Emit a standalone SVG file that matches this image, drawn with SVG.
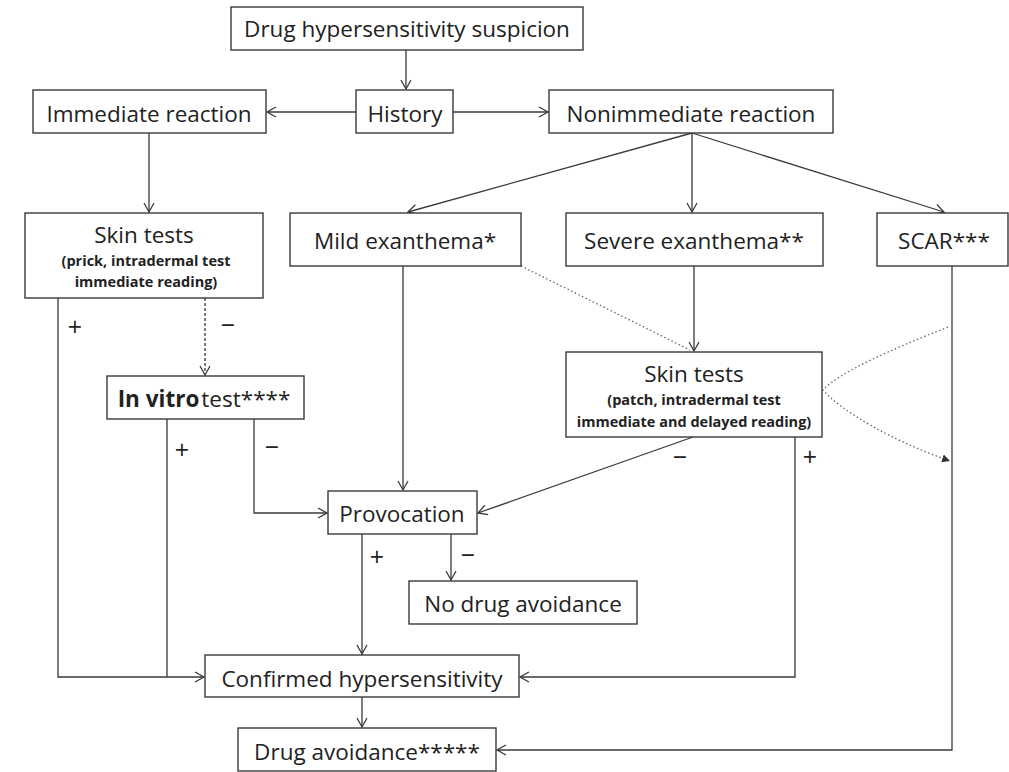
<svg xmlns="http://www.w3.org/2000/svg" width="1009" height="772" viewBox="0 0 1009 772">
<style>
.box{fill:#fff;stroke:#3a3a3a;stroke-width:1.4}
.t{font-family:"Open Sans","Noto Sans",sans-serif;font-size:22.5px;fill:#222;text-anchor:middle}
.s{font-family:"Open Sans","Noto Sans",sans-serif;font-size:14.5px;font-weight:bold;fill:#222;text-anchor:middle}
.l{font-family:"Open Sans","Noto Sans",sans-serif;font-size:25px;fill:#222;text-anchor:middle}
.c{fill:none;stroke:#3a3a3a;stroke-width:1.3}
.a{marker-end:url(#arr)}
.dash{stroke-dasharray:3,2}
.dot{fill:none;stroke:#666;stroke-width:1.3;stroke-dasharray:1.5,2.5}
</style>
<defs>
<marker id="arr" markerWidth="12" markerHeight="12" refX="10" refY="6" orient="auto" markerUnits="userSpaceOnUse">
<path d="M1,1 L10,6 L1,11" fill="none" stroke="#3a3a3a" stroke-width="1.3"/>
</marker>
<marker id="farr" markerWidth="10" markerHeight="10" refX="8" refY="5" orient="auto" markerUnits="userSpaceOnUse">
<path d="M0,1 L8,5 L0,9 Z" fill="#333"/>
</marker>
</defs>
<g id="connectors">
<path class="c a" d="M406,50 V89"/>
<path class="c a" d="M356,112 H267"/>
<path class="c a" d="M453,112 H548"/>
<path class="c a" d="M149,133 V212"/>
<path class="c a" d="M692,133 L408,212"/>
<path class="c a" d="M692,133 V212"/>
<path class="c a" d="M692,133 L944,212"/>
<path class="c a dash" d="M205,298 V375"/>
<path class="c a" d="M58,298 V677 H204"/>
<path class="c" d="M167,419 V677"/>
<path class="c a" d="M254,419 V513 H327"/>
<path class="c a" d="M403,266 V490"/>
<path class="dot" d="M521,266 L690,350"/>
<path class="c a" d="M694,266 V351"/>
<path class="c a" d="M693,437 L478,513"/>
<path class="c a" d="M795,437 V677 H520"/>
<path class="c a" d="M362,534 V654"/>
<path class="c a" d="M451,534 V580"/>
<path class="c a" d="M362,697 V727"/>
<path class="c a" d="M952,266 V750 H497"/>
<path class="dot" d="M948,327 C890,350 840,372 823,390 C840,410 890,440 950,461" marker-end="url(#farr)"/>
<text class="l" x="75" y="336">+</text>
<text class="l" x="228" y="334">−</text>
<text class="l" x="182" y="459">+</text>
<text class="l" x="272" y="456">−</text>
<text class="l" x="680" y="466">−</text>
<text class="l" x="810" y="466">+</text>
<text class="l" x="377" y="566">+</text>
<text class="l" x="468" y="564">−</text>
</g>
<g id="n-suspicion"><rect class="box" x="231" y="7" width="352" height="43"/><text class="t" x="407" y="37">Drug hypersensitivity suspicion</text></g>
<g id="n-history"><rect class="box" x="356" y="90" width="97" height="43"/><text class="t" x="405" y="122">History</text></g>
<g id="n-immediate"><rect class="box" x="33" y="90" width="233" height="43"/><text class="t" x="149" y="122">Immediate reaction</text></g>
<g id="n-nonimmediate"><rect class="box" x="549" y="90" width="284" height="43"/><text class="t" x="691" y="122">Nonimmediate reaction</text></g>
<g id="n-skin-left"><rect class="box" x="25" y="213" width="238" height="85"/><text class="t" x="144" y="243">Skin tests</text><text class="s" x="146" y="266">(prick, intradermal test</text><text class="s" x="146" y="287">immediate reading)</text></g>
<g id="n-mild"><rect class="box" x="290" y="213" width="231" height="53"/><text class="t" x="405" y="249">Mild exanthema*</text></g>
<g id="n-severe"><rect class="box" x="566" y="213" width="257" height="53"/><text class="t" x="694" y="249">Severe exanthema**</text></g>
<g id="n-scar"><rect class="box" x="877" y="213" width="131" height="53"/><text class="t" x="944" y="249">SCAR***</text></g>
<g id="n-invitro"><rect class="box" x="107" y="376" width="197" height="43"/><text class="t" x="204" y="407"><tspan font-weight="bold">In vitro</tspan><tspan dx="2">test****</tspan></text></g>
<g id="n-skin-right"><rect class="box" x="566" y="352" width="256" height="85"/><text class="t" x="694" y="382">Skin tests</text><text class="s" x="694" y="405">(patch, intradermal test</text><text class="s" x="694" y="427">immediate and delayed reading)</text></g>
<g id="n-provocation"><rect class="box" x="328" y="491" width="149" height="43"/><text class="t" x="402" y="522">Provocation</text></g>
<g id="n-nodrug"><rect class="box" x="409" y="581" width="228" height="43"/><text class="t" x="523" y="612">No drug avoidance</text></g>
<g id="n-confirmed"><rect class="box" x="205" y="655" width="314" height="42"/><text class="t" x="362" y="687">Confirmed hypersensitivity</text></g>
<g id="n-avoidance"><rect class="box" x="238" y="728" width="258" height="43"/><text class="t" x="367" y="760">Drug avoidance*****</text></g>
</svg>
